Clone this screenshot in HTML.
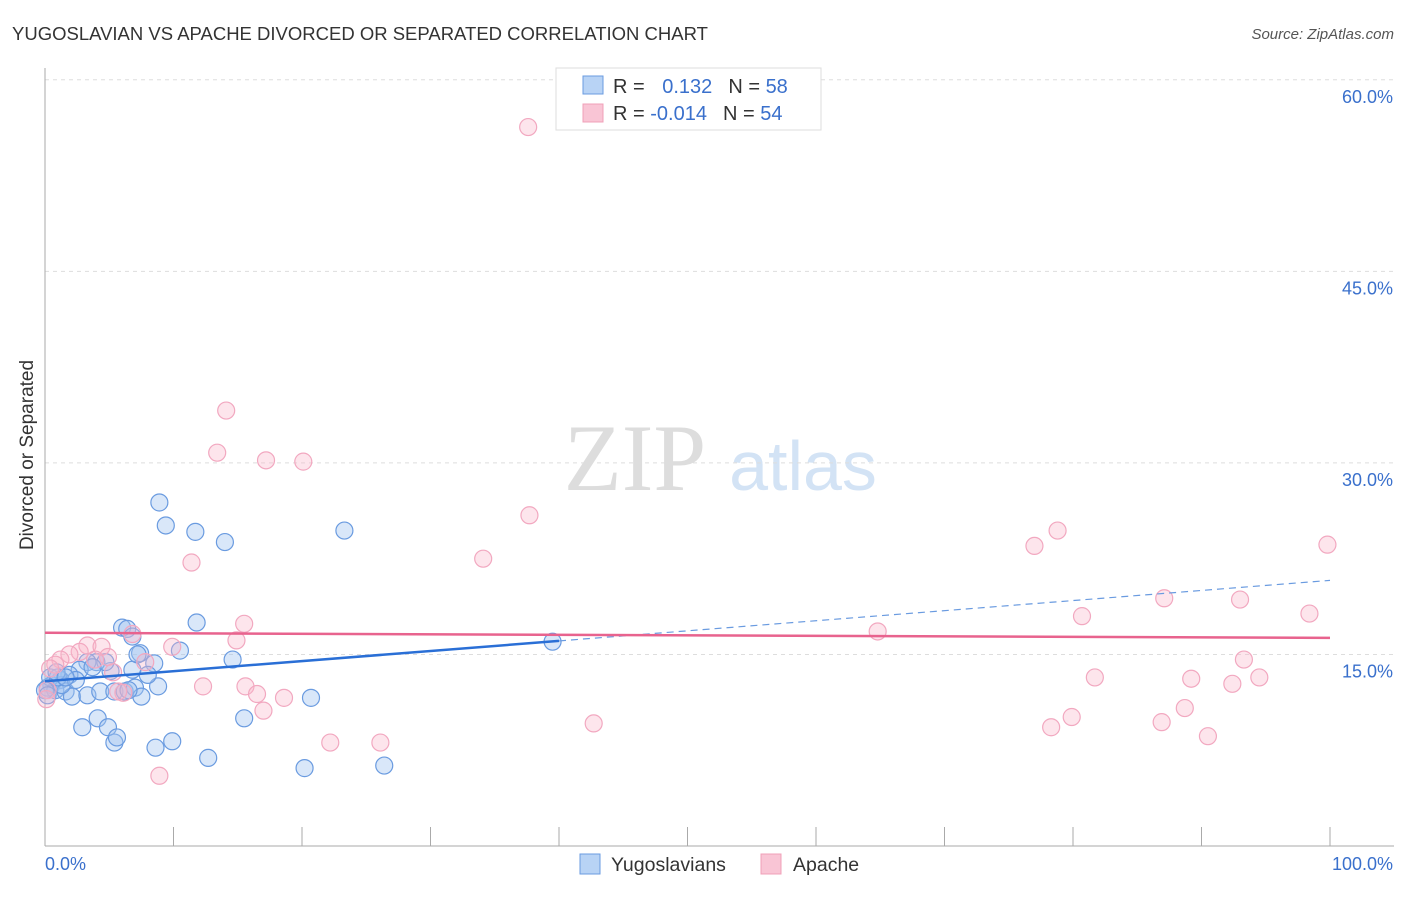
<!DOCTYPE html>
<html><head><meta charset="utf-8"><style>
body{margin:0;background:#fff;font-family:"Liberation Sans",sans-serif;}
</style></head><body>
<svg width="1406" height="892" viewBox="0 0 1406 892" xmlns="http://www.w3.org/2000/svg">
<text x="12" y="40" font-size="18.5" fill="#333">YUGOSLAVIAN VS APACHE DIVORCED OR SEPARATED CORRELATION CHART</text>
<text x="1394" y="39" font-size="15" fill="#555" font-style="italic" text-anchor="end">Source: ZipAtlas.com</text>
<text x="635" y="490" font-size="95" fill="#ddd" font-family="Liberation Serif" text-anchor="middle">ZIP</text>
<text x="803" y="490" font-size="70" fill="#d3e3f5" text-anchor="middle">atlas</text>
<g id="grid"></g>
<g id="axes"></g>
<g id="marks"></g>
<text transform="translate(33,455) rotate(-90)" font-size="19" fill="#333" text-anchor="middle">Divorced or Separated</text>
<g>
<rect x="556" y="68" width="265" height="62" fill="#fff" stroke="#ddd"/>
<rect x="583" y="76" width="20" height="18" fill="#b8d3f5" stroke="#6a9be0"/>
<rect x="583" y="104" width="20" height="18" fill="#f9c5d5" stroke="#f0a0b8"/>
<text x="613" y="93" font-size="20" fill="#333">R = <tspan fill="#3a70cc" dx="12">0.132</tspan><tspan dx="16" fill="#333">N = </tspan><tspan fill="#3a70cc">58</tspan></text>
<text x="613" y="120" font-size="20" fill="#333">R = <tspan fill="#3a70cc">-0.014</tspan><tspan dx="16" fill="#333">N = </tspan><tspan fill="#3a70cc">54</tspan></text>
</g>
<g>
<rect x="580" y="854" width="20" height="20" fill="#b8d3f5" stroke="#6a9be0"/>
<text x="611" y="871" font-size="19.5" fill="#333">Yugoslavians</text>
<rect x="761" y="854" width="20" height="20" fill="#f9c5d5" stroke="#f0a0b8"/>
<text x="793" y="871" font-size="19.5" fill="#333">Apache</text>
</g>
</svg>
<script>
const yTicks=[15,30,45,60];
const yTickLabels=["15.0%","30.0%","45.0%","60.0%"];
const blueX=[8.9,9.4,11.7,14.0,23.3,39.5,11.8,6.0,6.4,6.8,7.4,10.5,8.5,14.6,5.1,4.0,3.3,2.7,1.9,1.2,0.5,0.2,0.8,1.6,2.1,3.3,4.3,5.4,6.2,7.0,8.8,7.5,8.0,6.8,7.2,4.7,0.4,1.3,0.0,2.9,4.1,4.9,5.4,5.6,8.6,9.9,12.7,15.5,20.2,26.4,20.7,6.5,3.7,2.4,1.0,0.2,0.9,1.6];
const blueY=[26.9,25.1,24.6,23.8,24.7,16.0,17.5,17.1,17.0,16.4,15.1,15.3,14.3,14.6,13.7,14.4,14.4,13.8,13.4,13.0,12.6,12.4,12.2,12.1,11.7,11.8,12.1,12.1,12.1,12.4,12.5,11.7,13.4,13.8,15.0,14.4,13.2,12.6,12.2,9.3,10.0,9.3,8.1,8.5,7.7,8.2,6.9,10.0,6.1,6.3,11.6,12.2,14.0,13.0,13.2,11.8,13.6,13.2];
const pinkX=[37.6,14.1,13.4,17.2,20.1,11.4,34.1,37.7,77.0,78.8,99.8,87.1,93.0,98.4,80.7,64.8,15.5,14.9,6.8,9.9,3.3,4.4,2.7,1.9,4.9,1.2,0.8,0.4,7.8,5.3,12.3,15.6,16.5,17.0,18.6,6.1,5.7,0.2,22.2,26.1,8.9,42.7,78.3,79.9,81.7,86.9,88.7,89.2,90.5,92.4,94.5,93.3,3.9,0.1];
const pinkY=[56.3,34.1,30.8,30.2,30.1,22.2,22.5,25.9,23.5,24.7,23.6,19.4,19.3,18.2,18.0,16.8,17.4,16.1,16.6,15.6,15.7,15.6,15.2,15.0,14.8,14.6,14.2,13.9,14.4,13.6,12.5,12.5,11.9,10.6,11.6,12.0,12.1,12.2,8.1,8.1,5.5,9.6,9.3,10.1,13.2,9.7,10.8,13.1,8.6,12.7,13.2,14.6,14.6,11.5];
const blueTrend=[12.9,20.8];
const pinkTrend=[16.7,16.3];
const NS="http://www.w3.org/2000/svg";
const sx=v=>45+v*12.85, sy=v=>846-v*12.77;
function mk(tag,attrs,parent){const e=document.createElementNS(NS,tag);for(const k in attrs)e.setAttribute(k,attrs[k]);document.getElementById(parent).appendChild(e);return e;}
yTicks.forEach((t,i)=>{
 const g=mk('line',{x1:45,x2:1394,y1:sy(t),y2:sy(t),stroke:'#ddd','stroke-dasharray':'4,4'},'grid');
 
 
 const l=mk('text',{x:1393,y:sy(t)+23,'font-size':18,fill:'#3a70cc','text-anchor':'end'},'axes');
 l.textContent=yTickLabels[i];
 
 
});
const ya=mk('line',{x1:45,x2:45,y1:68,y2:846,stroke:'#aaa'},'axes');


const xa=mk('line',{x1:45,x2:1394,y1:846,y2:846,stroke:'#aaa'},'axes');


for(let i=0;i<=10;i++){const t=mk('line',{x1:sx(i*10),x2:sx(i*10),y1:827,y2:846,stroke:'#aaa'},'axes');
 
 }
const x0=mk('text',{x:45,y:870,'font-size':18,fill:'#3a70cc'},'axes');x0.textContent='0.0%';


const x1=mk('text',{x:1393,y:870,'font-size':18,fill:'#3a70cc','text-anchor':'end'},'axes');x1.textContent='100.0%';


blueX.forEach((x,i)=>{const c=mk('circle',{cx:sx(x),cy:sy(blueY[i]),r:8.5,fill:'rgba(160,196,240,0.4)',stroke:'#6a9be0','stroke-width':1.2},'marks');
 
 });
pinkX.forEach((x,i)=>{const c=mk('circle',{cx:sx(x),cy:sy(pinkY[i]),r:8.5,fill:'rgba(248,180,200,0.35)',stroke:'#f2a8c0','stroke-width':1.2},'marks');
 
 });
const by=x=>blueTrend[0]+(blueTrend[1]-blueTrend[0])*x/100;
const b1=mk('line',{x1:sx(0),y1:sy(by(0)),x2:sx(40),y2:sy(by(40)),stroke:'#2a6fd6','stroke-width':2.5},'marks');


const b2=mk('line',{x1:sx(40),y1:sy(by(40)),x2:sx(100),y2:sy(by(100)),stroke:'#6a9be0','stroke-width':1.2,'stroke-dasharray':'7,5'},'marks');


const p1=mk('line',{x1:sx(0),y1:sy(pinkTrend[0]),x2:sx(100),y2:sy(pinkTrend[1]),stroke:'#e8638e','stroke-width':2.5},'marks');


</script>
</body></html>
